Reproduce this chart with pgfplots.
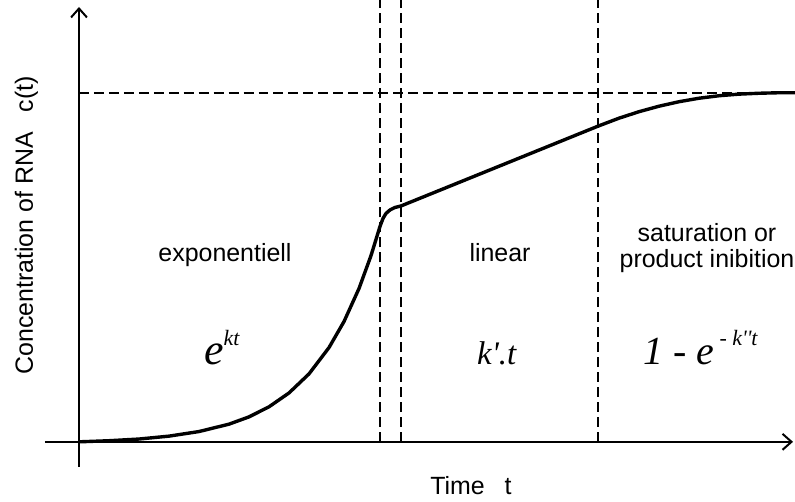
\documentclass[border=0pt]{standalone}
\usepackage{pgfplots}
\pgfplotsset{compat=1.18}
\usetikzlibrary{arrows.meta}
\usepackage{fontspec}
\setmainfont{Liberation Sans}
\newfontfamily\tms{Liberation Serif}

\begin{document}
\begin{tikzpicture}
\begin{axis}[
    scale only axis,
    width=750pt, height=461pt,
    xmin=-34, xmax=714, ymin=-25, ymax=436,
    axis lines=middle,
    axis line style={line width=2.2pt, -{Straight Barb[length=9pt,width=16pt,line width=2pt]}},
    xtick=\empty, ytick=\empty,
    clip=false,
]

% vertical phase borders and plateau
\addplot[black, line width=2pt, dash pattern=on 10pt off 5pt] coordinates {(301,0) (301,443)};
\addplot[black, line width=2pt, dash pattern=on 10pt off 5pt] coordinates {(322,0) (322,443)};
\addplot[black, line width=2pt, dash pattern=on 10pt off 5pt] coordinates {(519,0) (519,443)};
\addplot[black, line width=2pt, dash pattern=on 10pt off 5pt] coordinates {(0,350) (716,350)};

% concentration curve
\addplot[black, line width=3.4pt, line join=round] coordinates {
    (0,0) (30,1.1) (60,2.8) (90,5.7) (120,10.3) (150,17.7) (170,25)
    (190,35.1) (210,49) (230,68.1) (250,94.5) (265,120.6) (280,153.7)
    (292,186.7) (301,216) (304,224) (307,229) (311,232.5) (316,235)
    (322,236.5) (420,276.3) (519,316.5) (540,324.5) (560,331) (580,336.5)
    (600,341) (620,344.5) (640,347) (660,348.6) (680,349.5) (700,350) (716,350)
};

\node[anchor=base, font=\fontsize{25}{25}\selectfont] at (axis cs:146,181) {exponentiell};
\node[anchor=base, font=\fontsize{25}{25}\selectfont] at (axis cs:421,181) {linear};
\node[anchor=base, font=\fontsize{25}{25}\selectfont] at (axis cs:628,201) {saturation or};
\node[anchor=base, font=\fontsize{25}{25}\selectfont] at (axis cs:628,175) {product inibition};

\node[anchor=base west, inner sep=0pt] at (axis cs:125,78)
    {\tms\itshape{\fontsize{44}{44}\selectfont e}\raisebox{19pt}{\fontsize{22}{22}\selectfont kt}};
\node[anchor=base west, inner sep=0pt] at (axis cs:398,78)
    {\tms\itshape\fontsize{33}{33}\selectfont k'.t};
\node[anchor=base west, inner sep=0pt] at (axis cs:564,78)
    {\tms\itshape{\fontsize{40}{40}\selectfont 1\ - e}\raisebox{19pt}{\fontsize{22}{22}\selectfont\ - k''t}};

\node[anchor=base, font=\fontsize{25}{25}\selectfont] at (axis cs:392,-53) {Time\hspace{0.8em}t};
\node[anchor=base, rotate=90, font=\fontsize{25}{25}\selectfont] at (axis cs:-46,217)
    {Concentration of RNA\hspace{0.8em}c(t)};

\coordinate (bl) at (axis cs:-79,-60);
\coordinate (tr) at (axis cs:716,443);
\end{axis}
\pgfresetboundingbox
\path (bl) rectangle (tr);
\end{tikzpicture}
\end{document}
